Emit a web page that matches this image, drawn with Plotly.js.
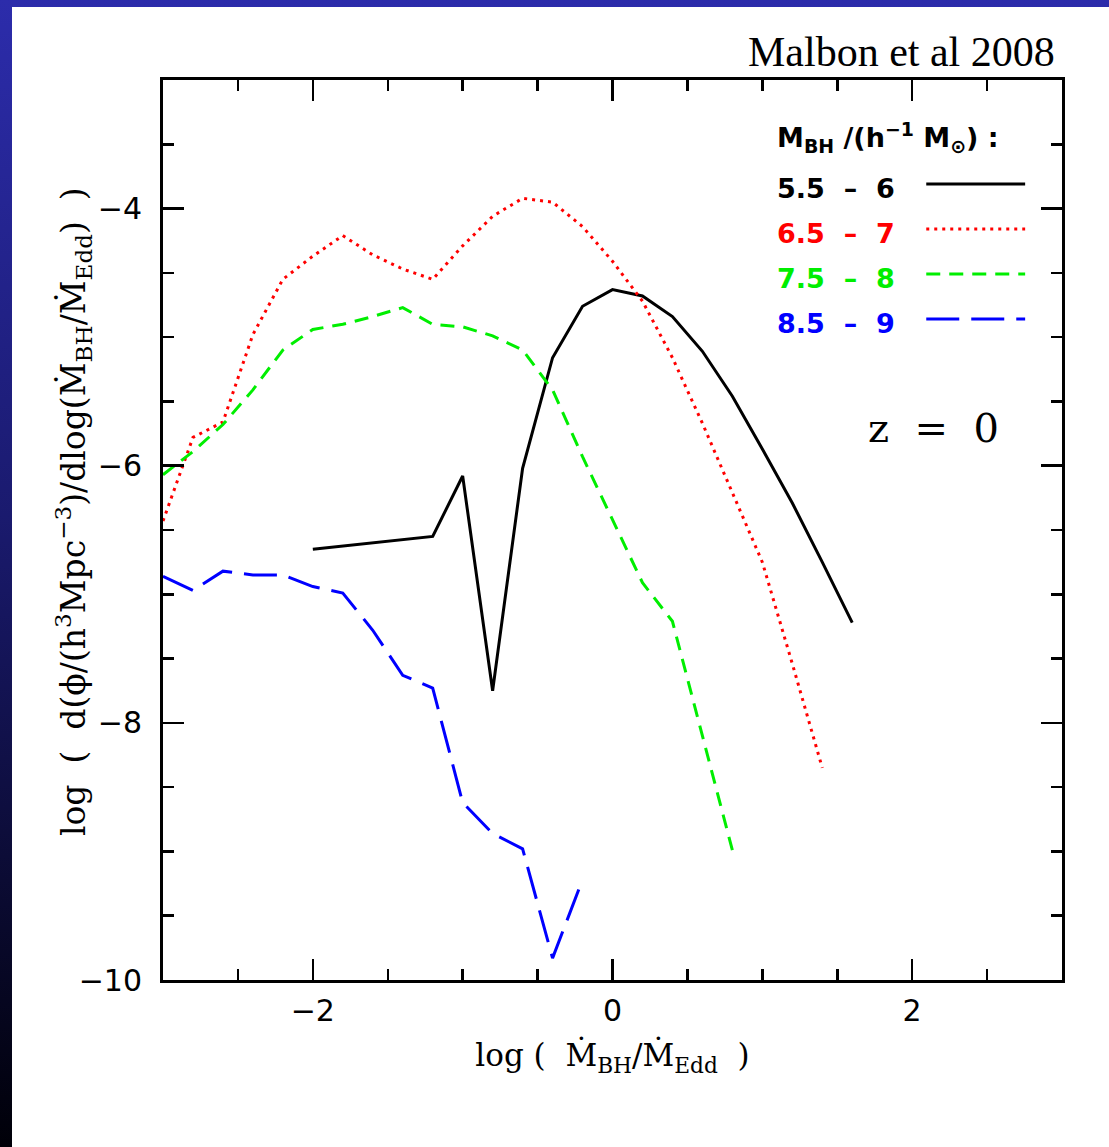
<!DOCTYPE html>
<html>
<head>
<meta charset="utf-8">
<script src="https://cdn.plot.ly/plotly-3.0.1.min.js"></script>
<style>
html, body { margin:0; padding:0; width:1109px; height:1147px; overflow:hidden;
  background: linear-gradient(to bottom, #2c2cab 0%, #1a1a6e 45%, #000008 100%); }
#chart { position:absolute; left:12px; top:7px; width:1097px; height:1140px; background:#fff; }
</style>
</head>
<body>
<div id="chart"></div>
<script>
// log(Mdot_BH / Mdot_Edd)
const xBlack = [-2.0, -1.2, -1.0, -0.8, -0.6, -0.4, -0.2, 0.0, 0.2, 0.4, 0.6, 0.8, 1.0, 1.2, 1.4, 1.6];
const yBlack = [-6.65, -6.55, -6.08, -7.75, -6.02, -5.16, -4.76, -4.63, -4.68, -4.84, -5.11, -5.46, -5.87, -6.29, -6.75, -7.22];

const xRed = [-3.0, -2.8, -2.6, -2.4, -2.2, -2.0, -1.8, -1.6, -1.4, -1.2, -1.0, -0.8, -0.6, -0.4, -0.2, 0.0, 0.2, 0.4, 0.6, 0.8, 1.0, 1.2, 1.4];
const yRed = [-6.43, -5.78, -5.66, -4.98, -4.55, -4.37, -4.21, -4.36, -4.47, -4.55, -4.29, -4.06, -3.92, -3.95, -4.14, -4.41, -4.72, -5.16, -5.67, -6.21, -6.75, -7.54, -8.35];

const xGreen = [-3.0, -2.8, -2.6, -2.4, -2.2, -2.0, -1.8, -1.6, -1.4, -1.2, -1.0, -0.8, -0.6, -0.4, -0.2, 0.0, 0.2, 0.4, 0.6, 0.8];
const yGreen = [-6.07, -5.89, -5.68, -5.41, -5.10, -4.94, -4.90, -4.84, -4.77, -4.90, -4.92, -4.99, -5.10, -5.41, -5.93, -6.42, -6.91, -7.21, -8.09, -8.99];

const xBlue = [-3.0, -2.8, -2.6, -2.4, -2.2, -2.0, -1.8, -1.6, -1.4, -1.2, -1.0, -0.8, -0.6, -0.4, -0.2];
const yBlue = [-6.86, -6.97, -6.82, -6.85, -6.85, -6.94, -6.99, -7.28, -7.63, -7.73, -8.62, -8.86, -8.98, -9.83, -9.22];

const seriesNames = ['5.5\u00a0\u00a0\u2013\u00a0\u00a06', '6.5\u00a0\u00a0\u2013\u00a0\u00a07', '7.5\u00a0\u00a0\u2013\u00a0\u00a08', '8.5\u00a0\u00a0\u2013\u00a0\u00a09'];
const seriesColors = ['#000000', '#ff0000', '#00ee00', '#0000ff'];
const seriesDash = ['solid', '3px,5px', '14px,9px', '33px,12px'];

const xTickVals = [-2, 0, 2];
const xTickText = ['\u22122', '0', '2'];
const yTickVals = [-10, -8, -6, -4];
const yTickText = ['\u221210', '\u22128', '\u22126', '\u22124'];

const xTitle = 'log\u00a0(\u00a0\u00a0M\u0307<sub>BH</sub>/M\u0307<sub>Edd</sub>\u00a0\u00a0)';
const yTitle = 'log\u00a0\u00a0(\u00a0\u00a0d(\u03d5/(h<sup>3</sup>Mpc<sup>\u22123</sup>)/dlog(M\u0307<sub>BH</sub>/M\u0307<sub>Edd</sub>)\u00a0\u00a0)';

const xs = [xBlack, xRed, xGreen, xBlue];
const ys = [yBlack, yRed, yGreen, yBlue];

const traces = xs.map((x, i) => ({
  x: x, y: ys[i], type: 'scatter', mode: 'lines', name: seriesNames[i],
  line: { color: seriesColors[i], width: 3, dash: seriesDash[i] },
  showlegend: false, hoverinfo: 'skip'
}));

// custom legend (text left, line sample right)
const legTextY = [0.880, 0.829, 0.779, 0.729];
const legLineY = [0.8844, 0.8344, 0.7844, 0.7344];
const annotations = [
  { xref: 'paper', yref: 'paper', x: 0.9944, y: 1.031, xanchor: 'right', yanchor: 'middle',
    text: 'Malbon et al 2008', showarrow: false,
    font: { family: 'Liberation Serif, serif', size: 42, color: '#000' } },
  { xref: 'paper', yref: 'paper', x: 0.6808, y: 0.9356, xanchor: 'left', yanchor: 'middle',
    text: 'M<sub>BH</sub>\u00a0/(h<sup>\u22121</sup>\u00a0M<sub>\u2299</sub>)\u00a0:', showarrow: false,
    font: { family: 'DejaVu Sans, sans-serif', size: 27, color: '#000', weight: 'bold' } },
  { xref: 'paper', yref: 'paper', x: 0.8566, y: 0.6133, xanchor: 'center', yanchor: 'middle',
    text: 'z\u00a0\u00a0=\u00a0\u00a00', showarrow: false,
    font: { family: 'DejaVu Serif, serif', size: 40, color: '#000' } },
  { xref: 'paper', yref: 'paper', x: -0.1, y: 0.52, xanchor: 'center', yanchor: 'middle',
    textangle: -90, text: yTitle, showarrow: false,
    font: { family: 'DejaVu Serif, serif', size: 33, color: '#000' } }
];
const shapes = [];
seriesNames.forEach((n, i) => {
  annotations.push({ xref: 'paper', yref: 'paper', x: 0.6808, y: legTextY[i], xanchor: 'left', yanchor: 'middle',
    text: n, showarrow: false, font: { family: 'DejaVu Sans, sans-serif', size: 27, color: seriesColors[i], weight: 'bold' } });
  shapes.push({ type: 'line', xref: 'paper', yref: 'paper', x0: 0.849, x1: 0.959, y0: legLineY[i], y1: legLineY[i],
    line: { color: seriesColors[i], width: 3, dash: seriesDash[i] } });
});

const axisCommon = {
  showgrid: false, zeroline: false, showline: true, linecolor: '#000', linewidth: 3,
  mirror: 'ticks', ticks: 'inside', ticklen: 21, tickwidth: 2.5, tickcolor: '#000',
  tickfont: { family: 'DejaVu Sans, sans-serif', size: 30, color: '#000' },
  tickmode: 'array'
};

const layout = {
  width: 1097, height: 1140,
  margin: { l: 151, r: 47, t: 73, b: 167 },
  paper_bgcolor: '#ffffff', plot_bgcolor: '#ffffff',
  showlegend: false,
  xaxis: Object.assign({}, axisCommon, {
    range: [-3, 3], tickvals: xTickVals, ticktext: xTickText, ticklabelstandoff: 2,
    minor: { tickmode: 'linear', tick0: 0, dtick: 0.5, ticks: 'inside', ticklen: 11, tickwidth: 2.5, tickcolor: '#000' },
    title: { text: xTitle, standoff: 18,
      font: { family: 'DejaVu Serif, serif', size: 31, color: '#000' } }
  }),
  yaxis: Object.assign({}, axisCommon, {
    range: [-10, -3], tickvals: yTickVals, ticktext: yTickText, ticklabelstandoff: 12,
    minor: { tickmode: 'linear', tick0: 0, dtick: 0.5, ticks: 'inside', ticklen: 11, tickwidth: 2.5, tickcolor: '#000' }
  }),
  annotations: annotations,
  shapes: shapes
};

Plotly.newPlot('chart', traces, layout, { staticPlot: true, displayModeBar: false });
</script>
</body>
</html>
